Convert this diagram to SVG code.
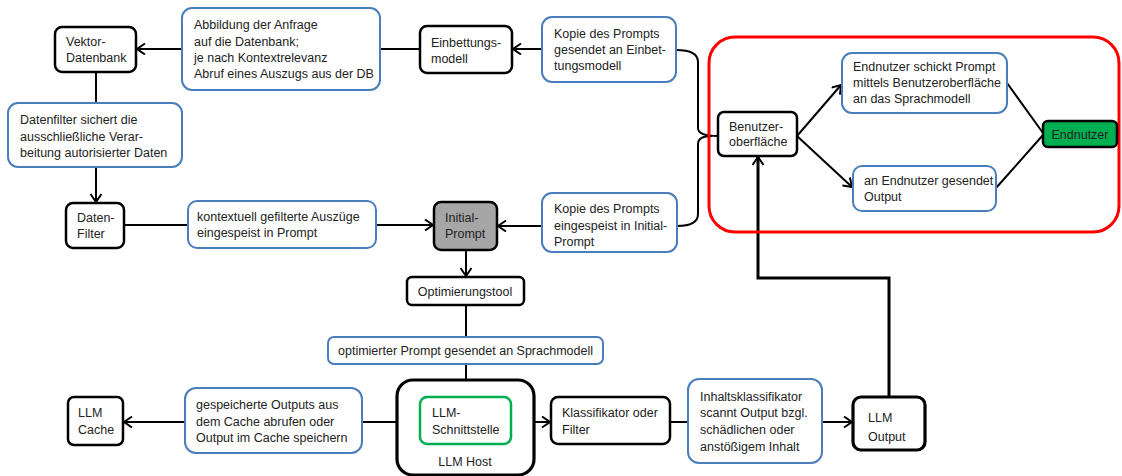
<svg xmlns="http://www.w3.org/2000/svg" width="1122" height="476" viewBox="0 0 1122 476">
<style>
text{font-family:"Liberation Sans",Arial,sans-serif;font-size:12.5px;fill:#222}
.k{fill:#fff;stroke:#000;stroke-width:2.5}
.kk{fill:#fff;stroke:#000;stroke-width:3.2}
.b{fill:#fff;stroke:#4a7ebb;stroke-width:2}
.c{fill:none;stroke:#000;stroke-width:2}
.ct{fill:none;stroke:#000;stroke-width:3}
.m{text-anchor:middle}
</style>
<defs>
<marker id="a" markerUnits="userSpaceOnUse" markerWidth="12" markerHeight="14" refX="9" refY="6" orient="auto">
<path d="M1,0.5 L9,6 L1,11.5" fill="none" stroke="#000" stroke-width="2"/>
</marker>
</defs>
<rect width="1122" height="476" fill="#fff"/>
<g id="connectors">
<path class="c" d="M182,49 L137,49" marker-end="url(#a)"/>
<path class="c" d="M380,49 L420,49"/>
<path class="c" d="M542,49 L513,49" marker-end="url(#a)"/>
<path class="c" d="M676,50 Q698,50 698,62 L698,128 Q698,136 718,136"/>
<path class="c" d="M677,226 Q698,226 698,214 L698,144 Q698,136 712,136"/>
<path class="c" d="M797,136 L841,85" marker-end="url(#a)"/>
<path class="c" d="M797,136 L852,187" marker-end="url(#a)"/>
<path class="c" d="M1007,83 L1043,133"/>
<path class="c" d="M996,188 L1043,135"/>
<path class="c" d="M96,72 L96,103"/>
<path class="c" d="M96,167 L96,202" marker-end="url(#a)"/>
<path class="c" d="M124,225 L188,225"/>
<path class="c" d="M376,225 L433,225" marker-end="url(#a)"/>
<path class="c" d="M542,226 L498,226" marker-end="url(#a)"/>
<path class="c" d="M466,250 L466,276" marker-end="url(#a)"/>
<path class="c" d="M466,305 L466,337"/>
<path class="c" d="M466,364 L466,396" marker-end="url(#a)"/>
<path class="c" d="M185,422 L124,422" marker-end="url(#a)"/>
<path class="c" d="M362,422 L419,422" marker-end="url(#a)"/>
<path class="c" d="M511,422 L550,422" marker-end="url(#a)"/>
<path class="c" d="M670,422 L688,422"/>
<path class="c" d="M822,422 L852,422" marker-end="url(#a)"/>
<path class="ct" d="M889,397 L889,278 L758,278 L758,157" marker-end="url(#a)"/>
</g>
<g id="red-group"><rect x="709" y="37" width="410" height="195" rx="26" fill="none" stroke="#ff0000" stroke-width="3"/></g>
<g id="vektor"><rect class="k" x="55" y="27" width="81" height="45" rx="7"/><text x="66" y="46">Vektor-</text><text x="66" y="62">Datenbank</text></g>
<g id="abbildung"><rect class="b" x="182" y="8" width="198" height="82" rx="10"/><text x="194" y="29">Abbildung der Anfrage</text><text x="194" y="46">auf die Datenbank;</text><text x="194" y="62">je nach Kontextrelevanz</text><text x="194" y="78">Abruf eines Auszugs aus der DB</text></g>
<g id="einbettung"><rect class="k" x="420" y="26" width="92" height="47" rx="7"/><text x="431" y="47">Einbettungs-</text><text x="431" y="63">modell</text></g>
<g id="kopie1"><rect class="b" x="542" y="17" width="134" height="65" rx="10"/><text x="554" y="38">Kopie des Prompts</text><text x="554" y="54">gesendet an Einbet-</text><text x="554" y="70">tungsmodell</text></g>
<g id="benutzer"><rect class="k" x="718" y="112" width="79" height="44" rx="6"/><text x="729" y="131">Benutzer-</text><text x="729" y="146">oberfläche</text></g>
<g id="schickt"><rect class="b" x="842" y="53" width="165" height="60" rx="10"/><text x="853" y="71">Endnutzer schickt Prompt</text><text x="853" y="87">mittels Benutzeroberfläche</text><text x="853" y="103">an das Sprachmodell</text></g>
<g id="gesendet"><rect class="b" x="853" y="166" width="143" height="45" rx="9"/><text x="864" y="185">an Endnutzer gesendet</text><text x="864" y="201">Output</text></g>
<g id="endnutzer"><rect x="1043" y="121" width="74" height="26" rx="5" fill="#00b050" stroke="#000" stroke-width="2.5"/><text class="m" x="1080" y="139">Endnutzer</text></g>
<g id="datenfilter-text"><rect class="b" x="8" y="103" width="174" height="64" rx="10"/><text x="20" y="124">Datenfilter sichert die</text><text x="20" y="141">ausschließliche Verar-</text><text x="20" y="157">beitung autorisierter Daten</text></g>
<g id="datenfilter"><rect class="k" x="66" y="203" width="58" height="45" rx="7"/><text x="77" y="222">Daten-</text><text x="77" y="238">Filter</text></g>
<g id="kontextuell"><rect class="b" x="188" y="201" width="188" height="47" rx="9"/><text x="197" y="221">kontextuell gefilterte Auszüge</text><text x="197" y="237">eingespeist in Prompt</text></g>
<g id="initial"><rect x="434" y="202" width="63" height="48" rx="7" fill="#a6a6a6" stroke="#000" stroke-width="2.5"/><text x="445" y="222">Initial-</text><text x="445" y="238">Prompt</text></g>
<g id="kopie2"><rect class="b" x="542" y="193" width="135" height="59" rx="10"/><text x="554" y="213">Kopie des Prompts</text><text x="554" y="230">eingespeist in Initial-</text><text x="554" y="246">Prompt</text></g>
<g id="optimierung"><rect class="k" x="407" y="277" width="117" height="28" rx="5"/><text class="m" x="465" y="296">Optimierungstool</text></g>
<g id="optimiert"><rect class="b" x="328" y="337" width="275" height="27" rx="6"/><text x="338" y="355">optimierter Prompt gesendet an Sprachmodell</text></g>
<g id="cache"><rect class="k" x="68" y="397" width="55" height="48" rx="6"/><text x="78" y="417">LLM</text><text x="78" y="434">Cache</text></g>
<g id="gespeichert"><rect class="b" x="185" y="388" width="177" height="65" rx="11"/><text x="196" y="409">gespeicherte Outputs aus</text><text x="196" y="426">dem Cache abrufen oder</text><text x="196" y="442">Output im Cache speichern</text></g>
<g id="host"><rect class="kk" x="397" y="380" width="137" height="95" rx="16"/><text class="m" x="465" y="466">LLM Host</text></g>
<g id="schnittstelle"><rect x="420" y="397" width="91" height="47" rx="7" fill="#fff" stroke="#00b050" stroke-width="2.5"/><text x="432" y="417">LLM-</text><text x="432" y="434">Schnittstelle</text></g>
<g id="klassifikator"><rect class="k" x="551" y="397" width="119" height="47" rx="7"/><text x="562" y="417">Klassifikator oder</text><text x="562" y="434">Filter</text></g>
<g id="inhalt"><rect class="b" x="688" y="379" width="134" height="84" rx="11"/><text x="700" y="401">Inhaltsklassifikator</text><text x="700" y="417">scannt Output bzgl.</text><text x="700" y="434">schädlichen oder</text><text x="700" y="451">anstößigem Inhalt</text></g>
<g id="output"><rect class="kk" x="853" y="397" width="72" height="53" rx="8"/><text x="868" y="422">LLM</text><text x="868" y="441">Output</text></g>
</svg>
